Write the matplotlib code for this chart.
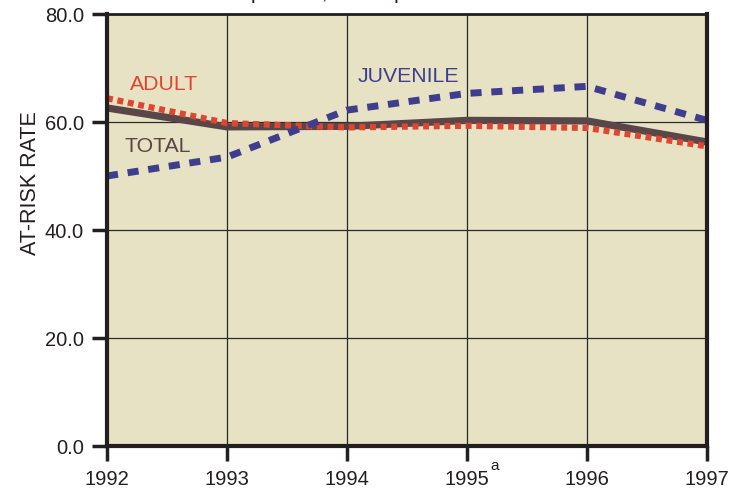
import matplotlib
matplotlib.use("Agg")
import matplotlib.pyplot as plt

years = [1992, 1993, 1994, 1995, 1996, 1997]
total = [62.6, 59.1, 59.2, 60.3, 60.2, 56.3]
adult = [64.4, 59.8, 59.0, 59.3, 58.9, 55.5]
juvenile = [50.0, 53.5, 62.2, 65.3, 66.6, 60.3]
yticks = [0, 20, 40, 60, 80]
ytick_labels = ["0.0", "20.0", "40.0", "60.0", "80.0"]

plt.rcParams['font.family'] = ['Liberation Sans', 'DejaVu Sans']

fig = plt.figure(figsize=(7.39, 4.89), dpi=100)
ax = fig.add_axes([107/739, 1 - 447/489, 600/739, 432/489])
ax.set_facecolor('#e6e2c3')

ax.plot(years, total, color='#584648', lw=5.2, solid_capstyle='butt', zorder=3)
ax.plot(years, adult, color='#e0462f', lw=4.5, linestyle=(0, (0.95, 0.75)), zorder=4)
ax.plot(years, juvenile, color='#3f3d8e', lw=5, linestyle=(0, (1.6, 1.4)), zorder=5)

ax.set_xlim(1992, 1997)
ax.set_ylim(0, 80)
ax.set_xticks(years)
ax.set_xticklabels([str(y) for y in years])
ax.set_yticks(yticks)
ax.set_yticklabels(ytick_labels)
ax.grid(True, color='#2a2a2a', lw=0.9, zorder=1)
ax.set_axisbelow(True)
ax.tick_params(axis='both', direction='out', length=10.5, width=2.5, color='#231f20',
               labelsize=14.5, labelcolor='#231f20')
ax.tick_params(axis='y', pad=6)
ax.tick_params(axis='x', pad=6)
for name, sp in ax.spines.items():
    sp.set_color('#231f20')
    sp.set_linewidth(3 if name != 'top' else 2)
    sp.set_zorder(6)
    sp.set_clip_on(False)

fig.text(30/739, 1 - 183/489, 'AT-RISK RATE', fontsize=15.5, color='#231f20',
         rotation=90, ha='center', va='center')

ax.text(1992.19, 67.2, 'ADULT', color='#e0462f', fontsize=15.3, ha='left', va='center')
ax.text(1992.15, 55.6, 'TOTAL', color='#584648', fontsize=15.3, ha='left', va='center')
ax.text(1994.09, 68.7, 'JUVENILE', color='#3f3d8e', fontsize=15.3, ha='left', va='center')
ax.text(1995.23, -3.6, 'a', color='#231f20', fontsize=11, ha='center', va='center', clip_on=False)

fig.text(0.5, 1.0 + 0.014, 'Rate per 100,000 Population at Risk', fontsize=15,
         color='#231f20', ha='center', va='center')

fig.savefig('out.png', dpi=100)
